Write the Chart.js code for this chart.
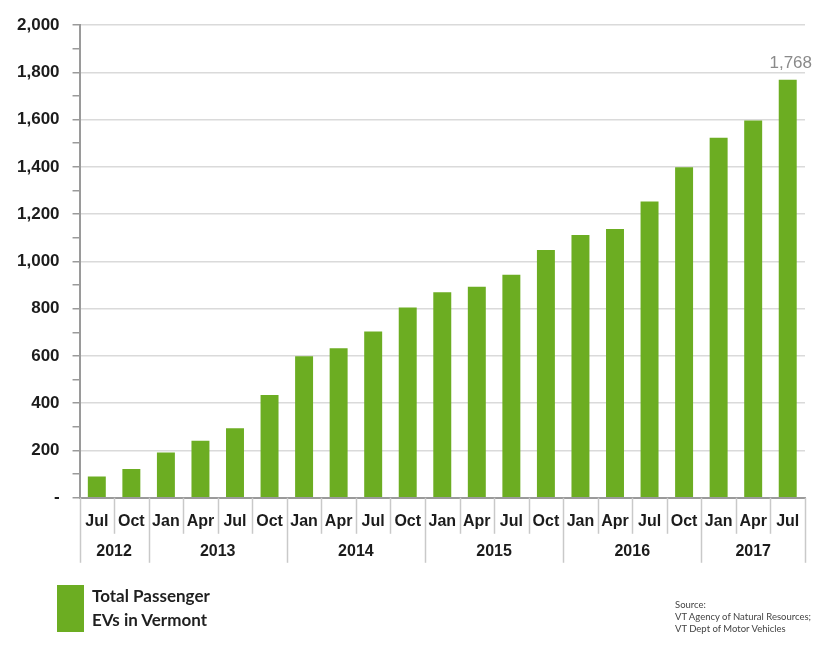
<!DOCTYPE html>
<html>
<head>
<meta charset="utf-8">
<script src="https://cdn.jsdelivr.net/npm/chart.js@4/dist/chart.umd.min.js"></script>
<style>
  body { margin: 0; background: #fff; }
  #wrap { position: relative; width: 816px; height: 645px; }
  #legend { position: absolute; left: 57px; top: 585px; font: bold 17px Lato, sans-serif; color: #1f1f1f; line-height: 24px; }
  #legend .swatch { position: absolute; left: 0; top: 0; width: 27px; height: 47px; background: #6cad22; }
  #legend .text { position: absolute; left: 35px; top: -1px; white-space: nowrap; }
  #source { position: absolute; left: 675px; top: 599px; font: 9.5px Lato, sans-serif; color: #444; line-height: 12px; white-space: nowrap; }
</style>
</head>
<body>
<div id="wrap">
  <canvas id="chart" width="816" height="645"></canvas>
  <div id="legend"><div class="swatch"></div><div class="text">Total Passenger<br>EVs in Vermont</div></div>
  <div id="source">Source:<br>VT Agency of Natural Resources;<br>VT Dept of Motor Vehicles</div>
</div>
<script>
const months = ["Jul", "Oct", "Jan", "Apr", "Jul", "Oct", "Jan", "Apr", "Jul", "Oct", "Jan",
  "Apr", "Jul", "Oct", "Jan", "Apr", "Jul", "Oct", "Jan", "Apr", "Jul"];
const years = ["2012", "2012", "2013", "2013", "2013", "2013", "2014", "2014", "2014", "2014",
  "2015", "2015", "2015", "2015", "2016", "2016", "2016", "2016", "2017", "2017", "2017"];
const evTotals = [90, 122, 192, 241, 294, 435, 599, 633, 703, 805, 869,
  893, 944, 1048, 1112, 1137, 1253, 1398, 1523, 1596, 1768];

const sepColor = "#c9c9c9";

// year row + separators under the axis, and the label on the last bar
const tablePlugin = {
  id: "yearTable",
  afterDraw(chart) {
    const ctx = chart.ctx;
    const x = chart.scales.x;
    const bottom = chart.chartArea.bottom;
    const step = x.getPixelForValue(1) - x.getPixelForValue(0);
    const left = (i) => x.getPixelForValue(i) - step / 2;
    ctx.save();
    ctx.strokeStyle = sepColor;
    ctx.lineWidth = 1.5;
    for (let i = 0; i <= months.length; i++) {
      const isYear = i === 0 || i === months.length || years[i] !== years[i - 1];
      const px = Math.round(left(i)) + 0.5;
      ctx.beginPath();
      ctx.moveTo(px, bottom);
      ctx.lineTo(px, bottom + (isYear ? 65 : 36));
      ctx.stroke();
    }
    ctx.fillStyle = "#1c1c1c";
    ctx.font = "bold 16px 'Liberation Sans', Arial, sans-serif";
    ctx.textAlign = "center";
    ctx.textBaseline = "middle";
    let start = 0;
    for (let i = 1; i <= years.length; i++) {
      if (i === years.length || years[i] !== years[start]) {
        ctx.fillText(years[start], (left(start) + left(i)) / 2, bottom + 54);
        start = i;
      }
    }
    const meta = chart.getDatasetMeta(0);
    const last = meta.data[meta.data.length - 1];
    ctx.fillStyle = "#8a8a8a";
    ctx.font = "17px 'Liberation Sans', Arial, sans-serif";
    ctx.textBaseline = "bottom";
    ctx.fillText(evTotals[evTotals.length - 1].toLocaleString("en-US"), last.x + 3, last.y - 8);
    ctx.restore();
  },
};

new Chart(document.getElementById("chart"), {
  type: "bar",
  data: {
    labels: months,
    datasets: [
      {
        label: "Total Passenger EVs in Vermont",
        data: evTotals,
        backgroundColor: "#6cad22",
        barPercentage: 0.52,
        categoryPercentage: 1,
      },
    ],
  },
  plugins: [tablePlugin],
  options: {
    responsive: false,
    animation: false,
    layout: {
      padding: { left: 4, right: 11, top: 25, bottom: 100 },
    },
    plugins: {
      legend: { display: false },
      tooltip: { enabled: false },
    },
    scales: {
      y: {
        min: 0,
        max: 2000,
        ticks: {
          stepSize: 100,
          padding: 13,
          color: "#1c1c1c",
          font: { family: "'Liberation Sans', Arial, sans-serif", size: 17, weight: "bold" },
          callback: (v) => (v === 0 ? "-" : v % 200 === 0 ? v.toLocaleString("en-US") : ""),
        },
        grid: {
          color: (c) => (c.tick && c.tick.value % 200 === 0 ? "#dadada" : "rgba(0,0,0,0)"),
          lineWidth: 1.5,
          tickColor: "#9a9a9a",
          tickLength: 7,
        },
        border: { color: "#9a9a9a", width: 2 },
      },
      x: {
        ticks: {
          autoSkip: false,
          maxRotation: 0,
          padding: 14,
          color: "#1c1c1c",
          font: { family: "'Liberation Sans', Arial, sans-serif", size: 16, weight: "bold" },
        },
        grid: { display: false, drawTicks: false },
        border: { color: "#9a9a9a", width: 2 },
      },
    },
  },
});
</script>
</body>
</html>
